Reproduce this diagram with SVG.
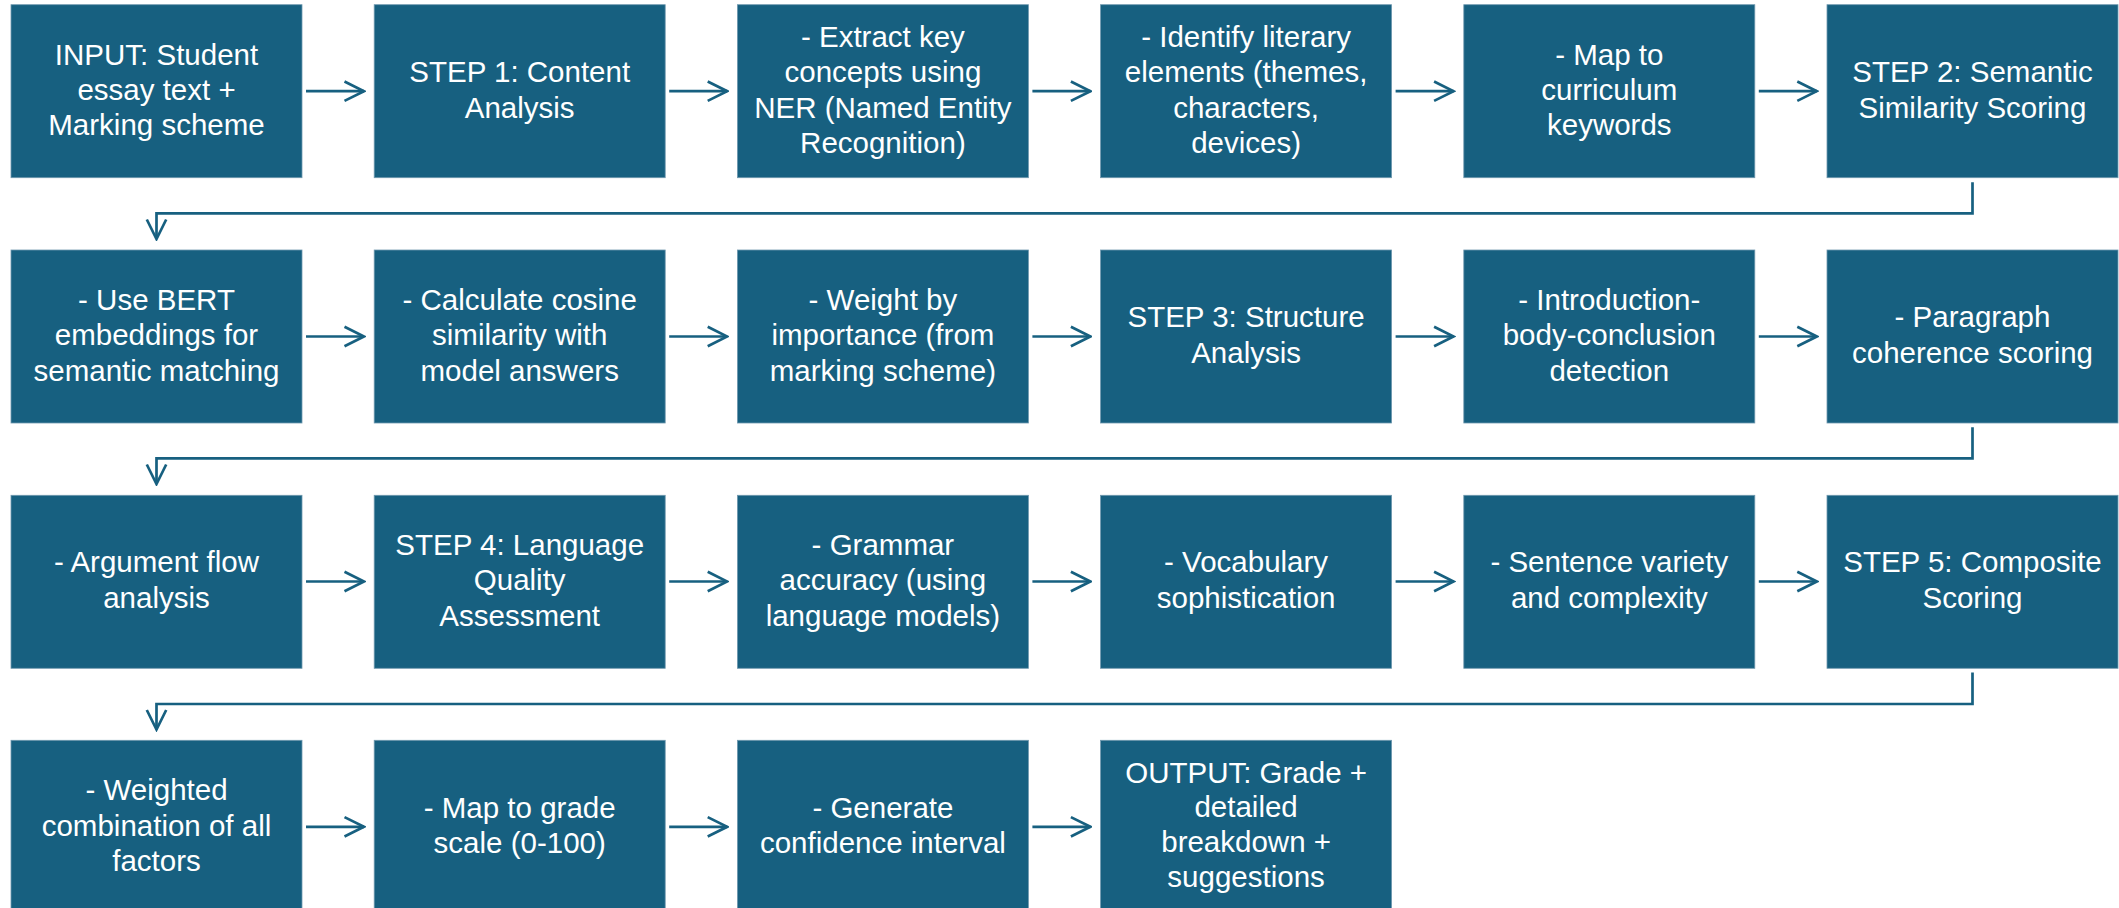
<svg xmlns="http://www.w3.org/2000/svg" width="2119" height="908" viewBox="0 0 2119 908">
<defs>
<style>
.box{fill:#176080;stroke:#6f98ae;stroke-width:0.8}
.t{font-family:"Liberation Sans",Arial,sans-serif;font-size:29.5px;fill:#ffffff;text-anchor:middle}
.c{fill:none;stroke:#176080;stroke-width:2.7}
</style>
<marker id="ah" markerUnits="userSpaceOnUse" viewBox="-22 -12 24 24" markerWidth="24" markerHeight="24" refX="0" refY="0" orient="auto">
<path d="M -19.5 -9.7 L 0 0 L -19.5 9.7" fill="none" stroke="#176080" stroke-width="2.7"/>
</marker>
</defs>
<rect width="2119" height="908" fill="#ffffff"/>
<g id="connectors">
<line class="c" x1="306" y1="91.2" x2="364" y2="91.2" marker-end="url(#ah)"/>
<line class="c" x1="669.2" y1="91.2" x2="727.2" y2="91.2" marker-end="url(#ah)"/>
<line class="c" x1="1032.4" y1="91.2" x2="1090.4" y2="91.2" marker-end="url(#ah)"/>
<line class="c" x1="1395.6" y1="91.2" x2="1453.6" y2="91.2" marker-end="url(#ah)"/>
<line class="c" x1="1758.8" y1="91.2" x2="1816.8" y2="91.2" marker-end="url(#ah)"/>
<path class="c" d="M 1972.5 182.3 V 213.3 H 156.5 V 239" marker-end="url(#ah)"/>
<line class="c" x1="306" y1="336.5" x2="364" y2="336.5" marker-end="url(#ah)"/>
<line class="c" x1="669.2" y1="336.5" x2="727.2" y2="336.5" marker-end="url(#ah)"/>
<line class="c" x1="1032.4" y1="336.5" x2="1090.4" y2="336.5" marker-end="url(#ah)"/>
<line class="c" x1="1395.6" y1="336.5" x2="1453.6" y2="336.5" marker-end="url(#ah)"/>
<line class="c" x1="1758.8" y1="336.5" x2="1816.8" y2="336.5" marker-end="url(#ah)"/>
<path class="c" d="M 1972.5 427.3 V 458.3 H 156.5 V 484" marker-end="url(#ah)"/>
<line class="c" x1="306" y1="581.5" x2="364" y2="581.5" marker-end="url(#ah)"/>
<line class="c" x1="669.2" y1="581.5" x2="727.2" y2="581.5" marker-end="url(#ah)"/>
<line class="c" x1="1032.4" y1="581.5" x2="1090.4" y2="581.5" marker-end="url(#ah)"/>
<line class="c" x1="1395.6" y1="581.5" x2="1453.6" y2="581.5" marker-end="url(#ah)"/>
<line class="c" x1="1758.8" y1="581.5" x2="1816.8" y2="581.5" marker-end="url(#ah)"/>
<path class="c" d="M 1972.5 672.6 V 704 H 156.5 V 729.5" marker-end="url(#ah)"/>
<line class="c" x1="306" y1="826.8" x2="364" y2="826.8" marker-end="url(#ah)"/>
<line class="c" x1="669.2" y1="826.8" x2="727.2" y2="826.8" marker-end="url(#ah)"/>
<line class="c" x1="1032.4" y1="826.8" x2="1090.4" y2="826.8" marker-end="url(#ah)"/>
</g>
<g id="n1"><rect class="box" x="11" y="4.7" width="291" height="173"/><text class="t" x="156.5" y="64.7">INPUT: Student</text><text class="t" x="156.5" y="100">essay text +</text><text class="t" x="156.5" y="135.3">Marking scheme</text></g>
<g id="n2"><rect class="box" x="374.2" y="4.7" width="291" height="173"/><text class="t" x="519.7" y="82">STEP 1: Content</text><text class="t" x="519.7" y="117.5">Analysis</text></g>
<g id="n3"><rect class="box" x="737.4" y="4.7" width="291" height="173"/><text class="t" x="882.9" y="46.5">- Extract key</text><text class="t" x="882.9" y="82">concepts using</text><text class="t" x="882.9" y="117.5">NER (Named Entity</text><text class="t" x="882.9" y="153">Recognition)</text></g>
<g id="n4"><rect class="box" x="1100.6" y="4.7" width="291" height="173"/><text class="t" x="1246.1" y="46.5">- Identify literary</text><text class="t" x="1246.1" y="82">elements (themes,</text><text class="t" x="1246.1" y="117.5">characters,</text><text class="t" x="1246.1" y="153">devices)</text></g>
<g id="n5"><rect class="box" x="1463.8" y="4.7" width="291" height="173"/><text class="t" x="1609.3" y="64.7">- Map to</text><text class="t" x="1609.3" y="100">curriculum</text><text class="t" x="1609.3" y="135.3">keywords</text></g>
<g id="n6"><rect class="box" x="1827" y="4.7" width="291" height="173"/><text class="t" x="1972.5" y="82">STEP 2: Semantic</text><text class="t" x="1972.5" y="117.5">Similarity Scoring</text></g>

<g id="n7"><rect class="box" x="11" y="250" width="291" height="173"/><text class="t" x="156.5" y="310">- Use BERT</text><text class="t" x="156.5" y="345.3">embeddings for</text><text class="t" x="156.5" y="380.6">semantic matching</text></g>
<g id="n8"><rect class="box" x="374.2" y="250" width="291" height="173"/><text class="t" x="519.7" y="310">- Calculate cosine</text><text class="t" x="519.7" y="345.3">similarity with</text><text class="t" x="519.7" y="380.6">model answers</text></g>
<g id="n9"><rect class="box" x="737.4" y="250" width="291" height="173"/><text class="t" x="882.9" y="310">- Weight by</text><text class="t" x="882.9" y="345.3">importance (from</text><text class="t" x="882.9" y="380.6">marking scheme)</text></g>
<g id="n10"><rect class="box" x="1100.6" y="250" width="291" height="173"/><text class="t" x="1246.1" y="327.3">STEP 3: Structure</text><text class="t" x="1246.1" y="362.8">Analysis</text></g>
<g id="n11"><rect class="box" x="1463.8" y="250" width="291" height="173"/><text class="t" x="1609.3" y="310">- Introduction-</text><text class="t" x="1609.3" y="345.3">body-conclusion</text><text class="t" x="1609.3" y="380.6">detection</text></g>
<g id="n12"><rect class="box" x="1827" y="250" width="291" height="173"/><text class="t" x="1972.5" y="327.3">- Paragraph</text><text class="t" x="1972.5" y="362.8">coherence scoring</text></g>

<g id="n13"><rect class="box" x="11" y="495.3" width="291" height="173"/><text class="t" x="156.5" y="572.3">- Argument flow</text><text class="t" x="156.5" y="607.8">analysis</text></g>
<g id="n14"><rect class="box" x="374.2" y="495.3" width="291" height="173"/><text class="t" x="519.7" y="555">STEP 4: Language</text><text class="t" x="519.7" y="590.3">Quality</text><text class="t" x="519.7" y="625.6">Assessment</text></g>
<g id="n15"><rect class="box" x="737.4" y="495.3" width="291" height="173"/><text class="t" x="882.9" y="555">- Grammar</text><text class="t" x="882.9" y="590.3">accuracy (using</text><text class="t" x="882.9" y="625.6">language models)</text></g>
<g id="n16"><rect class="box" x="1100.6" y="495.3" width="291" height="173"/><text class="t" x="1246.1" y="572.3">- Vocabulary</text><text class="t" x="1246.1" y="607.8">sophistication</text></g>
<g id="n17"><rect class="box" x="1463.8" y="495.3" width="291" height="173"/><text class="t" x="1609.3" y="572.3">- Sentence variety</text><text class="t" x="1609.3" y="607.8">and complexity</text></g>
<g id="n18"><rect class="box" x="1827" y="495.3" width="291" height="173"/><text class="t" x="1972.5" y="572.3">STEP 5: Composite</text><text class="t" x="1972.5" y="607.8">Scoring</text></g>

<g id="n19"><rect class="box" x="11" y="740.3" width="291" height="173"/><text class="t" x="156.5" y="800.3">- Weighted</text><text class="t" x="156.5" y="835.6">combination of all</text><text class="t" x="156.5" y="870.9">factors</text></g>
<g id="n20"><rect class="box" x="374.2" y="740.3" width="291" height="173"/><text class="t" x="519.7" y="817.6">- Map to grade</text><text class="t" x="519.7" y="853.1">scale (0-100)</text></g>
<g id="n21"><rect class="box" x="737.4" y="740.3" width="291" height="173"/><text class="t" x="882.9" y="817.6">- Generate</text><text class="t" x="882.9" y="853.1">confidence interval</text></g>
<g id="n22"><rect class="box" x="1100.6" y="740.3" width="291" height="173"/><text class="t" x="1246.1" y="782.6">OUTPUT: Grade +</text><text class="t" x="1246.1" y="817.1">detailed</text><text class="t" x="1246.1" y="852.1">breakdown +</text><text class="t" x="1246.1" y="887">suggestions</text></g>
</svg>
